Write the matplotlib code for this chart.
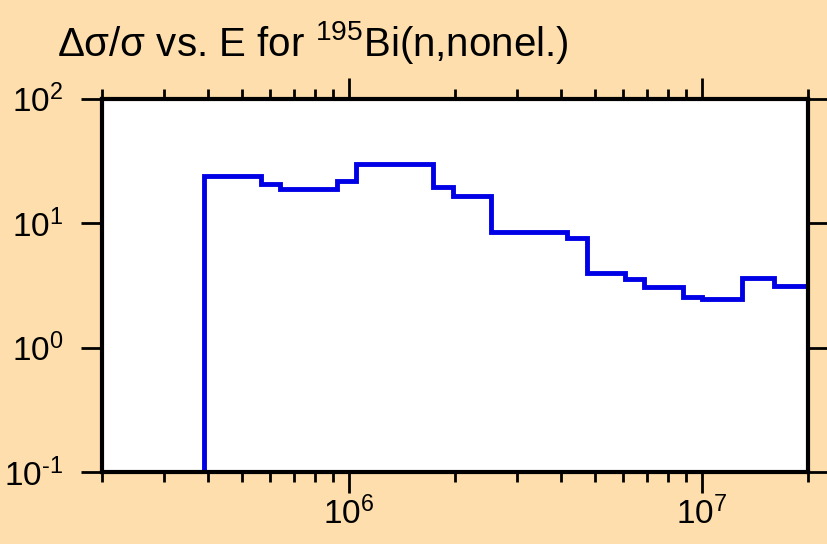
import numpy as np
import matplotlib
matplotlib.use('Agg')
import matplotlib.pyplot as plt
from matplotlib import ticker

plt.rcParams['font.family'] = ['Liberation Sans', 'DejaVu Sans']
plt.rcParams['mathtext.fontset'] = 'custom'
plt.rcParams['mathtext.rm'] = 'Liberation Sans'
plt.rcParams['mathtext.it'] = 'Liberation Sans'

# group boundaries (eV) and relative uncertainty (%) per group
edges = [3.9e5, 5.65e5, 6.4e5, 9.25e5, 1.05e6, 1.73e6, 1.97e6, 2.53e6, 4.16e6,
         4.72e6, 6.07e6, 6.87e6, 8.83e6, 1.0e7, 1.3e7, 1.6e7, 2.0e7]
rel_unc = [23.9, 20.4, 18.8, 21.7, 29.9, 19.4, 16.5, 8.47, 7.55,
           3.95, 3.53, 3.05, 2.55, 2.45, 3.64, 3.12]

bg = '#FDDEAC'
fig = plt.figure(figsize=(8.27, 5.44), dpi=100, facecolor=bg)
ax = fig.add_axes([102/827, 1-472/544, 706/827, 373.5/544])
ax.set_facecolor('white')

ax.stairs(rel_unc, edges, baseline=0.1, color='#0000E6', lw=3.5)

ax.set_xscale('log')
ax.set_yscale('log')
ax.set_xlim(2e5, 2e7)
ax.set_ylim(0.1, 100)


def fmt(v, pos):
    e = int(round(np.log10(v)))
    if e < 0:
        return r'$10^{\text{-}%d}$' % (-e)
    return r'$10^{%d}$' % e


ax.xaxis.set_major_formatter(ticker.FuncFormatter(fmt))
ax.yaxis.set_major_formatter(ticker.FuncFormatter(fmt))
ax.xaxis.set_minor_formatter(ticker.NullFormatter())
ax.yaxis.set_minor_locator(ticker.NullLocator())

for s in ax.spines.values():
    s.set_linewidth(3)
ax.tick_params(which='both', direction='out', top=True, right=True, width=2, labelsize=24)
ax.tick_params(which='major', length=15)
ax.tick_params(which='minor', length=7.5)
ax.tick_params(axis='x', which='major', pad=3)
ax.tick_params(axis='y', which='major', pad=13)

fig.text(57/827, 1-56/544, r'$\Delta\sigma/\sigma$ vs. E for $^{195}$Bi(n,nonel.)',
         fontsize=29, va='baseline', ha='left')

fig.savefig('out.png', dpi=100, facecolor=bg)
